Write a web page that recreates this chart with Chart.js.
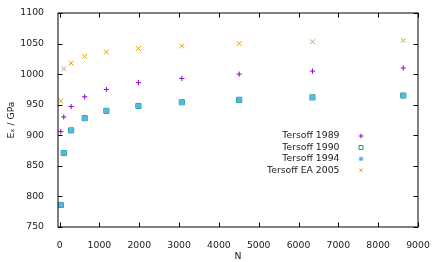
<!DOCTYPE html>
<html>
<head>
<meta charset="utf-8">
<script src="https://cdn.jsdelivr.net/npm/chart.js@4/dist/chart.umd.min.js"></script>
<style>
  html, body { margin: 0; padding: 0; background: #fff; }
  #wrap { width: 436px; height: 262px; }
</style>
</head>
<body>
<div id="wrap"><canvas id="c"></canvas></div>
<script>
// N values (atoms) and Young's modulus per potential
const nAtoms   = [30, 105, 290, 630, 1175, 1980, 3070, 4510, 6350, 8630];
const t1989    = [906, 930, 947, 963, 975, 986, 993, 1000, 1005, 1010];
const t1990    = [786, 871, 908, 928, 940, 948, 954, 958, 962, 965];
const t1994    = [786, 871, 908, 928, 940, 948, 954, 958, 962, 965];
const tEA2005  = [956, 1009, 1018, 1029, 1036, 1042, 1046, 1050, 1053, 1055];

const labels = ['Tersoff 1989', 'Tersoff 1990', 'Tersoff 1994', 'Tersoff EA 2005'];
const xTicks = [0, 1000, 2000, 3000, 4000, 5000, 6000, 7000, 8000, 9000];
const yTicks = [750, 800, 850, 900, 950, 1000, 1050, 1100];

const FONT = { family: 'DejaVu Sans', size: 9.3 };
const TXT = '#1a1a1a';

function pts(ys) {
  return nAtoms.map((n, i) => ({ x: n, y: ys[i] }));
}

// marker shapes, also used for the legend
const markers = [
  { style: 'cross',    radius: 2.6, color: '#9400d3', fill: false, width: 1 },
  { style: 'rect',     radius: 3.6, color: '#009e73', fill: false, width: 1 },
  { style: 'rect',     radius: 3.1, color: '#56b4e9', fill: true,  width: 0.5 },
  { style: 'crossRot', radius: 3.4, color: '#e69f00', fill: false, width: 1 }
];

function drawMarker(ctx, m, x, y, r) {
  ctx.save();
  ctx.strokeStyle = m.color;
  ctx.fillStyle = m.color;
  ctx.lineWidth = m.width;
  ctx.beginPath();
  if (m.style === 'cross') {
    ctx.moveTo(x - r, y); ctx.lineTo(x + r, y);
    ctx.moveTo(x, y - r); ctx.lineTo(x, y + r);
    ctx.stroke();
  } else if (m.style === 'crossRot') {
    const d = r * Math.SQRT1_2;
    ctx.moveTo(x - d, y - d); ctx.lineTo(x + d, y + d);
    ctx.moveTo(x - d, y + d); ctx.lineTo(x + d, y - d);
    ctx.stroke();
  } else {
    const s = r * Math.SQRT1_2;
    ctx.rect(x - s, y - s, 2 * s, 2 * s);
    if (m.fill) ctx.fill();
    ctx.stroke();
  }
  ctx.restore();
}

// gnuplot-like frame with inward ticks on all sides + key
const framePlugin = {
  id: 'frame',
  afterDraw(chart) {
    const ctx = chart.ctx;
    const a = chart.chartArea;
    const xs = chart.scales.x, ys = chart.scales.y;
    const L = Math.round(a.left), R = Math.round(a.right);
    const T = Math.round(a.top), B = Math.round(a.bottom);
    ctx.save();
    ctx.strokeStyle = '#000';
    ctx.lineWidth = 1;
    ctx.strokeRect(L, T, R - L, B - T);
    ctx.beginPath();
    const tl = 4.5;
    xTicks.forEach(v => {
      const px = Math.round(xs.getPixelForValue(v)) + 0.5;
      ctx.moveTo(px, B); ctx.lineTo(px, B - tl);
      ctx.moveTo(px, T); ctx.lineTo(px, T + tl);
    });
    yTicks.forEach(v => {
      const py = Math.round(ys.getPixelForValue(v)) + 0.5;
      ctx.moveTo(L, py); ctx.lineTo(L + tl, py);
      ctx.moveTo(R, py); ctx.lineTo(R - tl, py);
    });
    ctx.stroke();

    // key
    ctx.font = FONT.size + 'px ' + FONT.family;
    ctx.fillStyle = TXT;
    ctx.textAlign = 'right';
    ctx.textBaseline = 'middle';
    const keyY = [136, 147.5, 158.8, 170.2];
    labels.forEach((lab, i) => {
      ctx.fillText(lab, 339.5, keyY[i]);
      drawMarker(ctx, markers[i], 361, keyY[i], i === 1 ? 2.8 : 2.3);
    });
    ctx.restore();
  }
};

const datasets = [t1989, t1990, t1994, tEA2005].map((vals, i) => {
  const m = markers[i];
  return {
    label: labels[i],
    data: pts(vals),
    showLine: false,
    order: i === 2 ? 0 : 1,
    pointStyle: m.style,
    pointRadius: m.radius,
    pointHoverRadius: m.radius,
    pointBorderColor: m.color,
    pointBackgroundColor: m.fill ? m.color : 'rgba(0,0,0,0)',
    pointBorderWidth: m.width
  };
});

new Chart(document.getElementById('c'), {
  type: 'scatter',
  data: { datasets: datasets },
  options: {
    responsive: true,
    maintainAspectRatio: false,
    animation: false,
    layout: { padding: { top: 13, right: 18, left: 0, bottom: 0 } },
    plugins: { legend: { display: false }, tooltip: { enabled: false } },
    scales: {
      x: {
        type: 'linear',
        min: -40, max: 9000,
        afterFit(s) { s.height = 35; },
        afterBuildTicks(s) { s.ticks = xTicks.map(v => ({ value: v })); },
        grid: { display: false },
        border: { display: false },
        ticks: { color: TXT, font: FONT, padding: 5, maxRotation: 0, autoSkip: false,
                 callback: v => String(v) },
        title: { display: true, text: 'N', color: TXT, font: FONT, padding: { top: 0, bottom: 0 } }
      },
      y: {
        type: 'linear',
        min: 750, max: 1100,
        afterFit(s) { s.width = 58; },
        afterBuildTicks(s) { s.ticks = yTicks.map(v => ({ value: v })); },
        grid: { display: false },
        border: { display: false },
        ticks: { color: TXT, font: FONT, padding: 6, callback: v => String(v) },
        title: { display: true, text: 'Eₓ / GPa', color: TXT, font: FONT, padding: { top: 6, bottom: 0 } }
      }
    }
  },
  plugins: [framePlugin]
});
</script>
</body>
</html>
